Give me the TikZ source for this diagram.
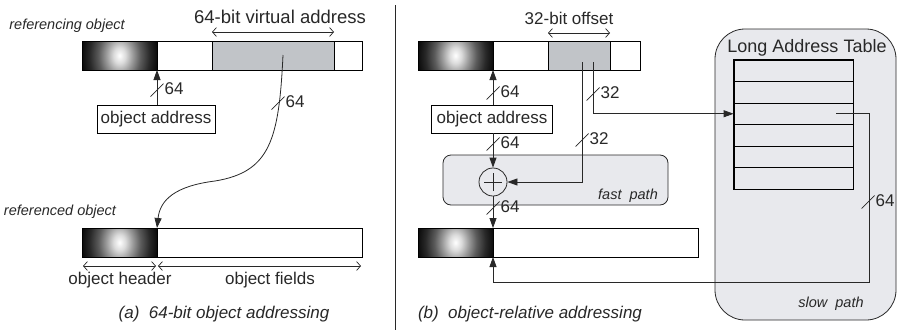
\documentclass[tikz,border=0pt]{standalone}
\usepackage{fontspec}
\setmainfont{Liberation Sans}
\usetikzlibrary{arrows.meta,calc}
\pgfdeclareradialshading{objgrad}{\pgfpoint{0bp}{0bp}}{color(0bp)=(white); color(4bp)=(black!14); color(9bp)=(black!40); color(14bp)=(black!64); color(20bp)=(black!84); color(25bp)=(black!95); color(36bp)=(black); color(50bp)=(black)}
\definecolor{barGray}{RGB}{193,196,200}
\definecolor{pathFill}{RGB}{232,233,237}
\definecolor{ink}{RGB}{40,40,40}
\begin{document}
\begin{tikzpicture}[x=1pt,y=-1pt,
  font=\fontsize{17}{20}\selectfont, text=ink,
  seg/.style={draw=black, line width=0.9pt, inner sep=0pt, outer sep=0pt, anchor=north west, minimum height=29pt},
  hdr/.style={seg, path picture={\shade[shading=objgrad] ([shift={(-37.5pt,-50pt)}]path picture bounding box.center) rectangle ([shift={(37.5pt,50pt)}]path picture bounding box.center);}},
  box/.style={draw=black, line width=0.8pt, fill=white, minimum width=118pt, minimum height=28pt, inner sep=0pt},
  rbox/.style={draw=ink, fill=pathFill, line width=0.8pt, inner sep=0pt},
  cell/.style={draw=black, line width=0.8pt, minimum width=119pt, minimum height=21.5pt, inner sep=0pt},
  itl/.style={font=\fontsize{14.5}{17}\selectfont\itshape, inner sep=0pt},
  captxt/.style={font=\fontsize{17}{20}\selectfont\itshape, inner sep=0pt},
  arr/.style={draw=ink, line width=0.8pt, -{Triangle[length=10pt,width=7pt]}},
  dbl/.style={draw=ink, line width=0.7pt, {Straight Barb[length=4pt,width=9pt]}-{Straight Barb[length=4pt,width=9pt]}},
  pics/bus/.style={code={\draw[draw=ink, line width=0.7pt] (-6.5,6.5) -- (6.5,-6.5); \node[anchor=west, inner sep=0pt] at (7.5,-1) {#1};}}
]
\useasboundingbox (0,0) rectangle (899,330);

% ---------- (a) ----------
\node[itl] (refing) at (67,26) {referencing object};
\node[hdr, minimum width=75pt] (a1h) at (82,41) {};
\node[seg, minimum width=55pt] (a1w) at (157,41) {};
\node[seg, fill=barGray, minimum width=122pt] (a1g) at (212,41) {};
\node[seg, minimum width=28pt] (a1e) at (334,41) {};
\node[inner sep=0pt, font=\fontsize{18.5}{21}\selectfont] (vatext) at (280,17) {64-bit virtual address};
\draw[dbl] ([yshift=9pt]a1g.north west) -- ([yshift=9pt]a1g.north east);

\node[box] (oa1) at (156,119) {object address};
\draw[arr] (oa1.north -| a1h.south east) -- (a1h.south east);
\pic at (157,90) {bus=64};

\node[itl] (refed) at (60,212) {referenced object};
\node[hdr, minimum width=75pt] (a2h) at (82,228) {};
\node[seg, minimum width=205pt] (a2f) at (157,228) {};

\coordinate (vaddr) at (283,55);
\draw[arr] (vaddr) .. controls (279,140) and (270,172) .. (215,181) .. controls (175,186) and (160,200) .. (a2h.north east);
\pic at (278,103) {bus=64};

\draw[dbl] ([xshift=1pt,yshift=-9pt]a2h.south west) -- ([xshift=-1pt,yshift=-9pt]a2h.south east);
\draw[dbl] ([xshift=1pt,yshift=-9pt]a2f.south west) -- ([xshift=-1pt,yshift=-9pt]a2f.south east);
\node[inner sep=0pt] (hdrtxt) at (120,280) {object header};
\node[inner sep=0pt] (fldtxt) at (270,280) {object fields};
\node[captxt] (capa) at (224,314) {(a)\ \ 64-bit object addressing};

% divider
\coordinate (dtop) at (395,5);
\coordinate (dbot) at (395,330);
\draw[ink, line width=0.8pt] (dtop) -- (dbot);

% ---------- (b) ----------
\node[rbox, rounded corners=30pt, minimum width=181pt, minimum height=291pt] (slow) at (805.5,174.5) {};
\node[inner sep=0pt, font=\fontsize{18}{21}\selectfont] (lat) at (807,48) {Long Address Table};
\foreach \i in {1,...,6} \node[cell] (row\i) at (793.5,{60+(\i-0.5)*21.5}) {};
\draw[black, line width=1.3pt] (row1.north west) rectangle (row6.south east);
\node[itl] (slowtxt) at (831,304) {slow\ \ path};

\node[rbox, rounded corners=8pt, minimum width=225pt, minimum height=50pt] (fast) at (555.5,180) {};
\node[itl] (fasttxt) at (628,196) {fast\ \ path};

\node[hdr, minimum width=75pt] (b1h) at (418,41) {};
\node[seg, minimum width=55pt] (b1w) at (493,41) {};
\node[seg, fill=barGray, minimum width=62pt] (b1g) at (548,41) {};
\node[seg, minimum width=30pt] (b1e) at (610,41) {};
\node[inner sep=0pt] (offtxt) at (569,18) {32-bit offset};
\draw[dbl] ([yshift=8pt]b1g.north west) -- ([yshift=8pt]b1g.north east);

\node[box, minimum width=121pt] (oa2) at (492,119) {object address};
\draw[arr] (oa2.north -| b1h.south east) -- (b1h.south east);
\pic at (493,93) {bus=64};

\node[circle, draw=ink, line width=0.8pt, minimum size=28pt, inner sep=0pt] (add) at (493,182) {};
\draw[ink, line width=0.8pt] ([xshift=-9pt]add.center) -- ([xshift=9pt]add.center);
\draw[ink, line width=0.8pt] ([yshift=-9pt]add.center) -- ([yshift=9pt]add.center);
\draw[arr] (oa2.south -| add.north) -- (add.north);
\pic at (493,144) {bus=64};

\node[hdr, minimum width=75pt] (b2h) at (418,228) {};
\node[seg, minimum width=205pt] (b2f) at (493,228) {};
\draw[arr] (add.south) -- (b2h.north east);
\pic at (493,208) {bus=64};

\coordinate (o1) at (582,62);
\coordinate (o2) at (593,62);
\draw[arr] (o1) |- (add.east);
\pic at (582,140) {bus=32};
\draw[arr] (o2) |- (row3.west);
\pic at (593,94) {bus=32};

\coordinate (ret) at (869,282);
\draw[arr] ([xshift=-17pt]row3.east) -| (ret) -| (b2h.south east);
\pic at (868,202) {bus=64};

\node[captxt] (capb) at (530,314) {(b)\ \ object-relative addressing};
\end{tikzpicture}
\end{document}
